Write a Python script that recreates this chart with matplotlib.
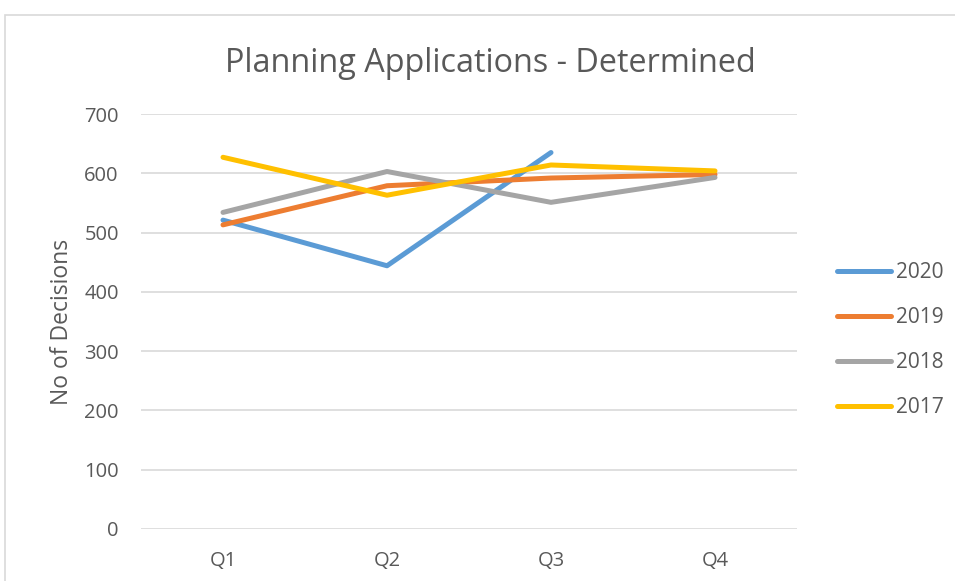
import matplotlib
matplotlib.use("Agg")
import matplotlib.pyplot as plt
from matplotlib.patches import Rectangle

quarters = ["Q1", "Q2", "Q3", "Q4"]
years = ["2020", "2019", "2018", "2017"]
v2020 = [521, 444, 635]
v2019 = [513, 579, 592, 598]
v2018 = [534, 603, 551, 593]
v2017 = [627, 563, 614, 604]
series = [v2020, v2019, v2018, v2017]
colors = ["#5B9BD5", "#ED7D31", "#A5A5A5", "#FFC000"]
yticks = [0, 100, 200, 300, 400, 500, 600, 700]

plt.rcParams['font.family'] = ['Open Sans', 'DejaVu Sans']
txt = "#595959"

fig = plt.figure(figsize=(9.55, 5.81), dpi=100)
ax = fig.add_axes([141/955, 1-529/581, (797-141)/955, (529-114)/581])

for i, (yr, vals, c) in enumerate(zip(years, series, colors)):
    ax.plot(range(len(vals)), vals, color=c, lw=3.6, label=yr,
            solid_capstyle='round', solid_joinstyle='round', zorder=3+i)

ax.set_xlim(-0.5, 3.5)
ax.set_ylim(0, 700)
ax.set_xticks(range(4))
ax.set_xticklabels(quarters)
ax.set_yticks(yticks)
ax.grid(axis='y', color='#d9d9d9', lw=1.2)
ax.set_axisbelow(True)
for s in ax.spines.values():
    s.set_visible(False)
ax.tick_params(length=0, labelsize=14.5, colors=txt)
ax.tick_params(axis='x', pad=16)
ax.tick_params(axis='y', pad=16)
ax.set_ylabel("No of Decisions", fontsize=16.5, color=txt, labelpad=7)

fig.text(490/955, 1-63/581, "Planning Applications - Determined", ha='center', va='center',
         fontsize=23.3, color=txt)

leg = fig.legend(loc='center left', bbox_to_anchor=(818/955, 1-340/581), frameon=False,
                 fontsize=15, labelcolor=txt, handlelength=2.6, labelspacing=1.15,
                 handletextpad=0.25)

fig.patches.append(Rectangle((5/955, -0.1), 1.1, 1-15/581+0.1, transform=fig.transFigure,
                             fill=False, edgecolor='#d9d9d9', lw=1.2))

fig.savefig("out.png", dpi=100)
